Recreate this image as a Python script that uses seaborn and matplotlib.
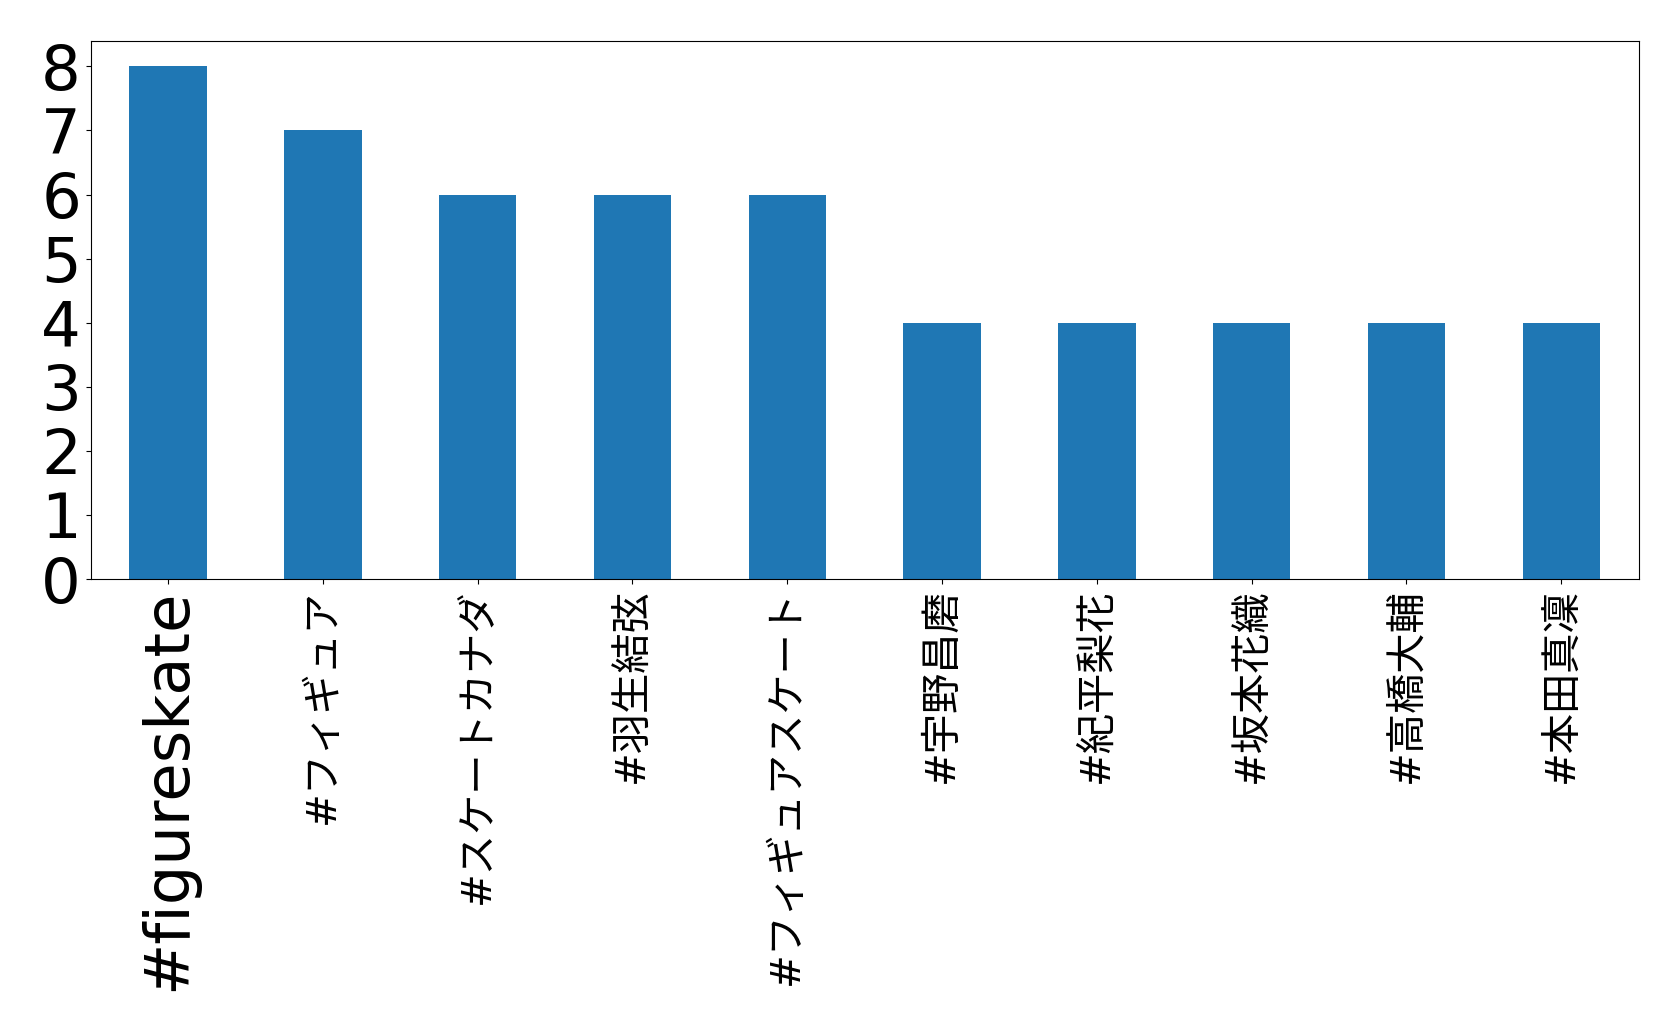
import matplotlib
matplotlib.use("Agg")
import matplotlib.pyplot as plt
import seaborn as sns

tags = ["#figureskate", "#フィギュア", "#スケートカナダ", "#羽生結弦", "#フィギュアスケート",
        "#宇野昌磨", "#紀平梨花", "#坂本花織", "#高橋大輔", "#本田真凜"]
counts = [8, 7, 6, 6, 6, 4, 4, 4, 4, 4]

plt.rcParams['font.family'] = ['DejaVu Sans', 'Noto Sans CJK JP']
fig = plt.figure(figsize=(16.79, 10.31), dpi=100)
ax = fig.add_axes([0.054, 0.4384, 0.922, 0.5221])
sns.barplot(x=tags, y=counts, color='#1f77b4', saturation=1, width=0.5, ax=ax)
ax.set_xlim(-0.5, len(tags) - 0.5)
ax.set_ylim(0, 8.4)
ax.set_yticks(range(0, 9))
ax.tick_params(axis='both', labelsize=45)
for lab in ax.get_xticklabels():
    lab.set_rotation(90)
    if not lab.get_text().isascii():
        lab.set_fontsize(29)
ax.set_xlabel("")
ax.set_ylabel("")
fig.savefig("out.png", dpi=100)
